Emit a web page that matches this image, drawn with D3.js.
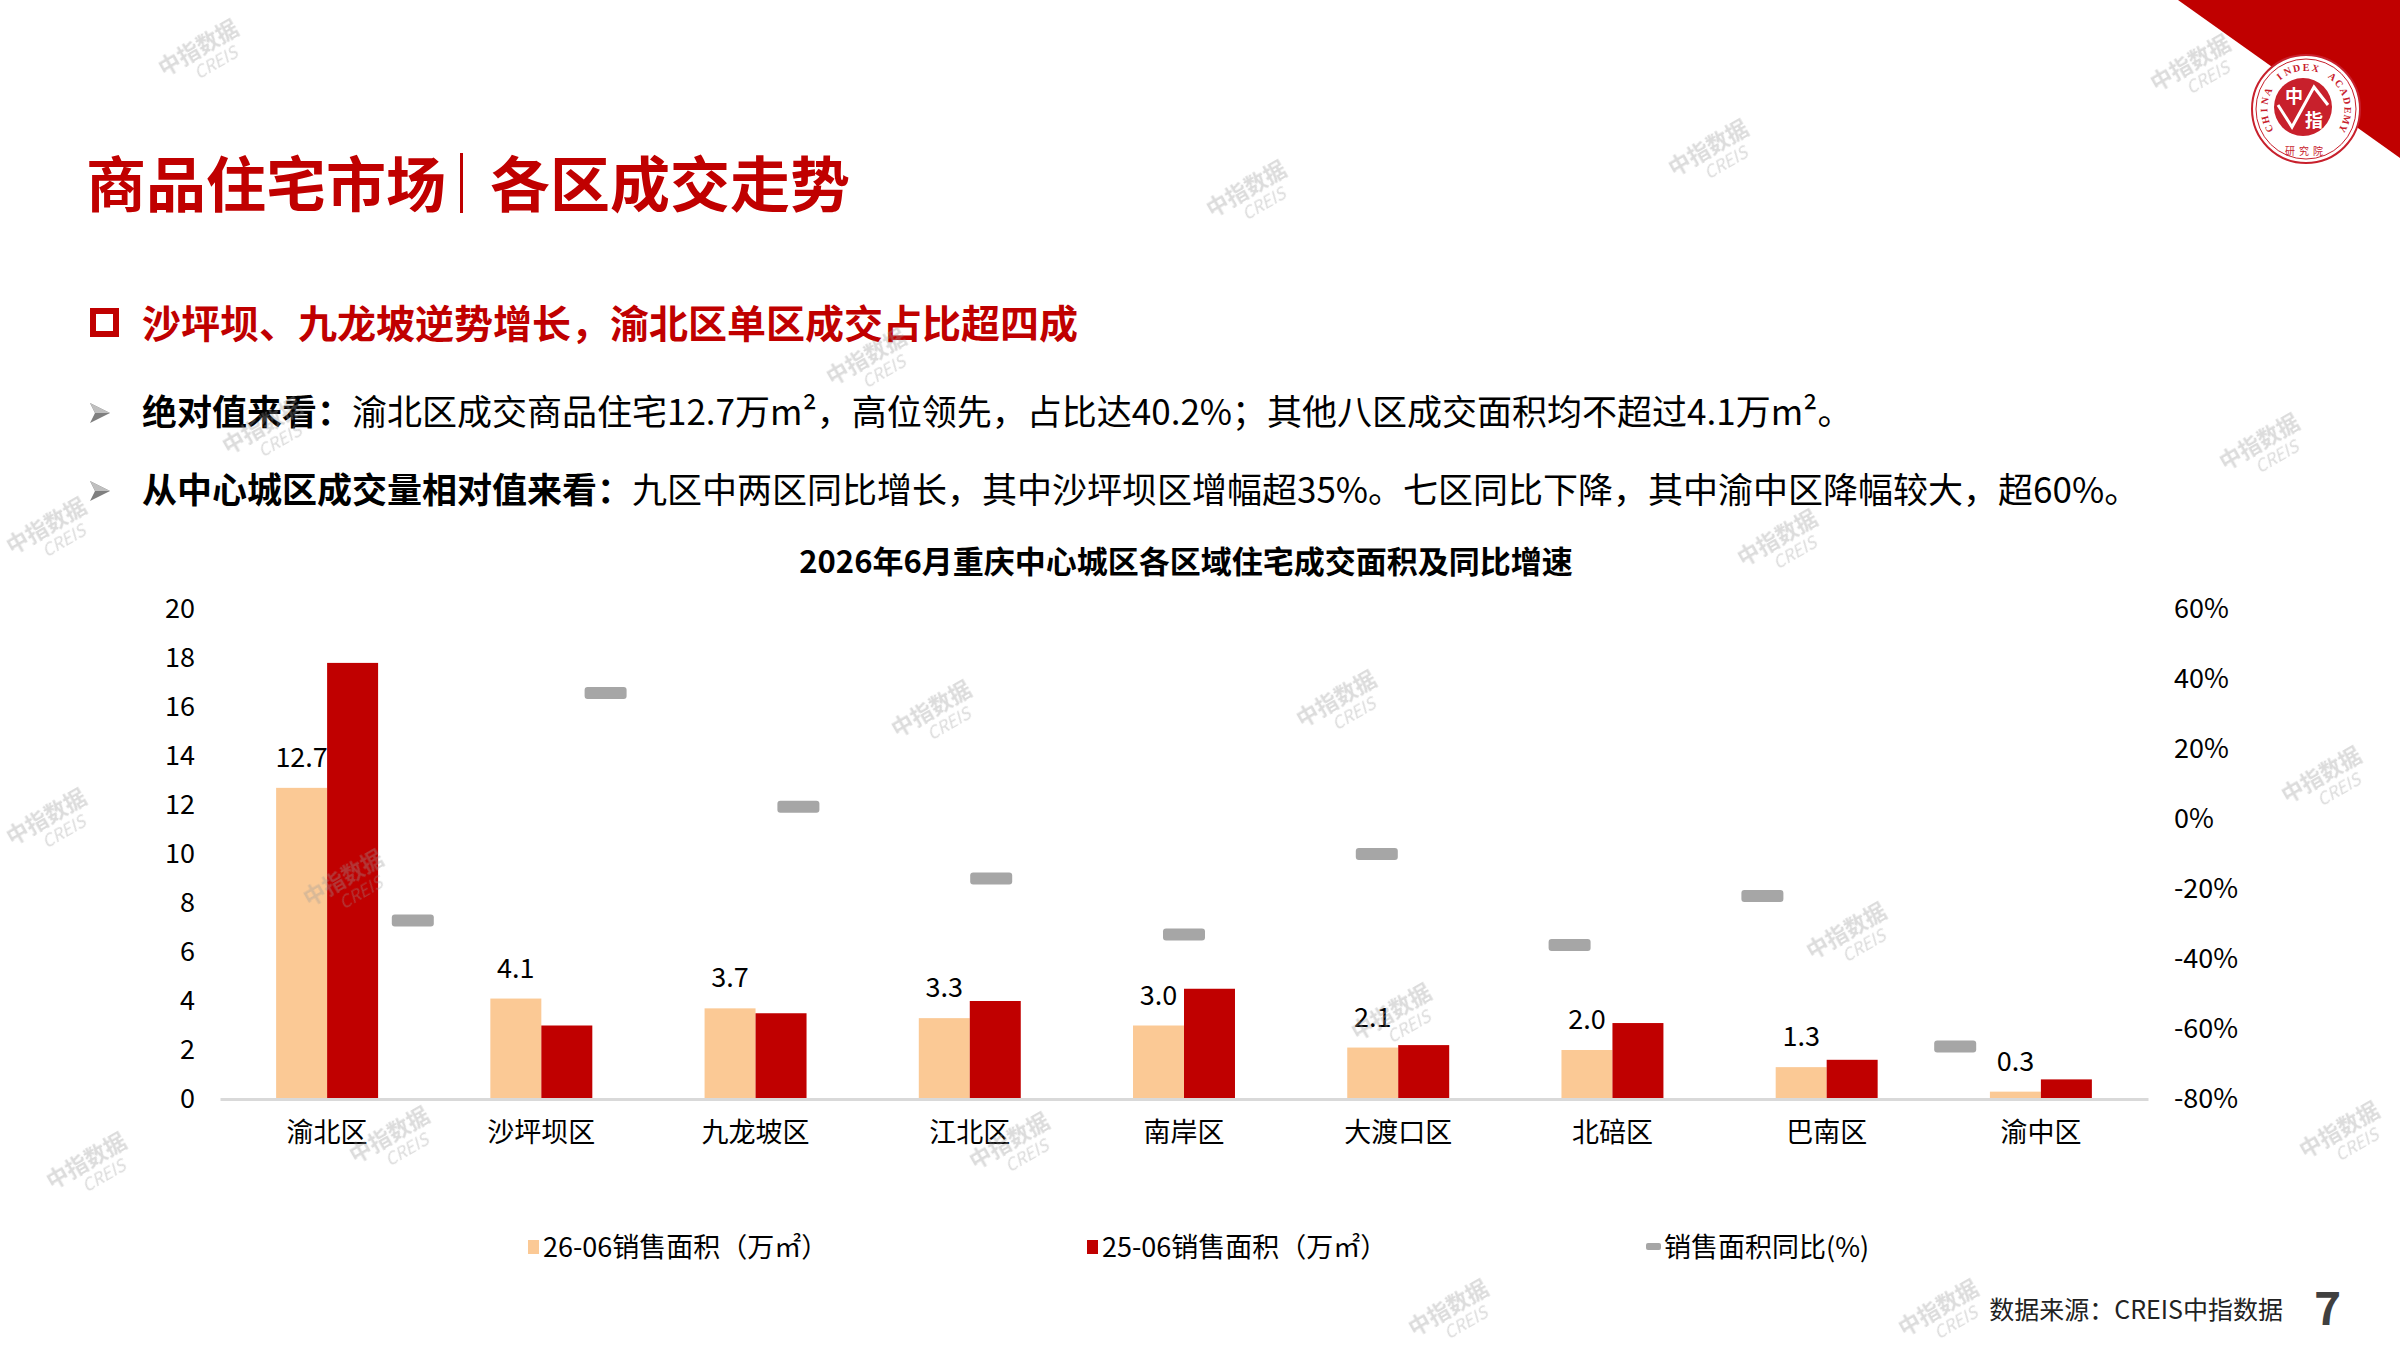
<!DOCTYPE html>
<html>
<head>
<meta charset="utf-8" />
<title>各区成交走势</title>
<style>
html, body {
    padding: 0px;
    margin: 0px;
    width: 100%;
    height: 100%;
    background: #fff;
}
svg text {
    font-family: "Noto Sans CJK SC", "Noto Sans", sans-serif;
}
.tick line {
    display: none;
}
</style>
</head>
<body>
<svg id="page" width="2400" height="1350"></svg>

<script src="https://cdnjs.cloudflare.com/ajax/libs/d3/7.8.5/d3.min.js"></script>
<script>
// 区域
var districts = ["渝北区", "沙坪坝区", "九龙坡区", "江北区", "南岸区", "大渡口区", "北碚区", "巴南区", "渝中区"]
// 26-06销售面积（万㎡）
var area2606 = [12.7, 4.1, 3.7, 3.3, 3.0, 2.1, 2.0, 1.3, 0.3]
// 25-06销售面积（万㎡）
var area2506 = [17.8, 3.0, 3.5, 4.0, 4.5, 2.2, 3.1, 1.6, 0.8]
// 销售面积同比
var yoy = [-0.29, 0.36, 0.035, -0.17, -0.33, -0.10, -0.36, -0.22, -0.65]

var seriesNames = ["26-06销售面积（万㎡）", "25-06销售面积（万㎡）", "销售面积同比(%)"]
var leftTicks = [0, 2, 4, 6, 8, 10, 12, 14, 16, 18, 20]
var rightTicks = [-0.8, -0.6, -0.4, -0.2, 0, 0.2, 0.4, 0.6]

var watermarks = [[204,58],[1252,199],[1714,158],[2196,73],[872,367],[268,436],[2265,452],
    [1783,548],[937,719],[1342,709],[2327,785],[52,827],[349,888],[1852,941],[395,1145],
    [92,1171],[1015,1151],[1397,1022],[2345,1140],[1454,1318],[52,536],[1944,1318]]

!(function(){
    "use strict"

    var RED = "#C00000"
    var svg = d3.select("#page")

    drawHeader()
    drawLogo()
    drawChart()
    drawFooter()
    drawWatermarks()

    function drawHeader() {
        // 大标题
        svg.append("text")
            .attr("x", 86).attr("y", 207)
            .attr("font-size", 60).attr("font-weight", 700)
            .attr("fill", RED)
            .text("商品住宅市场")
        svg.append("rect")
            .attr("x", 460).attr("y", 153).attr("width", 3).attr("height", 60)
            .attr("fill", RED)
        svg.append("text")
            .attr("x", 490).attr("y", 207)
            .attr("font-size", 60).attr("font-weight", 700)
            .attr("fill", RED)
            .text("各区成交走势")

        // 小标题
        svg.append("rect")
            .attr("x", 93).attr("y", 311).attr("width", 23).attr("height", 23)
            .attr("fill", "none").attr("stroke", RED).attr("stroke-width", 6)
        svg.append("text")
            .attr("x", 142).attr("y", 338)
            .attr("font-size", 39).attr("font-weight", 700)
            .attr("fill", RED)
            .text("沙坪坝、九龙坡逆势增长，渝北区单区成交占比超四成")

        var bullets = [
            {y: 413, bold: "绝对值来看：", rest: "渝北区成交商品住宅12.7万m²，高位领先，占比达40.2%；其他八区成交面积均不超过4.1万m²。"},
            {y: 491, bold: "从中心城区成交量相对值来看：", rest: "九区中两区同比增长，其中沙坪坝区增幅超35%。七区同比下降，其中渝中区降幅较大，超60%。"}
        ]
        bullets.forEach(function(b) {
            var g = svg.append("g").attr("transform", "translate(90," + b.y + ")")
            g.append("path").attr("d", "M0,-10 L20,0 L0,10 L5,0 Z").attr("fill", "#7f7f7f")
            g.append("path").attr("d", "M0,-10 L20,0 L5,0 Z").attr("fill", "#bfbfbf")
            var t = svg.append("text")
                .attr("x", 142).attr("y", b.y + 12)
                .attr("font-size", 35).attr("fill", "#000")
            t.append("tspan").attr("font-weight", 700).text(b.bold)
            t.append("tspan").text(b.rest)
        })
    }

    function drawLogo() {
        svg.append("path")
            .attr("d", "M2178,0 L2400,0 L2400,158 Z")
            .attr("fill", RED)
        var g = svg.append("g").attr("transform", "translate(2306,109)")
        g.append("circle").attr("r", 54).attr("fill", "#fff").attr("stroke", "#c8202c").attr("stroke-width", 2)
        g.append("circle").attr("r", 50).attr("fill", "none").attr("stroke", "#c8202c").attr("stroke-width", 1)
        g.append("circle").attr("cx", -3).attr("cy", -2).attr("r", 29).attr("fill", "#c8202c")
        g.append("path").attr("d", "M-28,-4 L-14,18 L8,-22 L22,-4")
            .attr("fill", "none").attr("stroke", "#fff").attr("stroke-width", 3)
        g.append("text").attr("x", -12).attr("y", -6).attr("text-anchor", "middle")
            .attr("font-size", 18).attr("font-weight", 700).attr("fill", "#fff").text("中")
        g.append("text").attr("x", 8).attr("y", 18).attr("text-anchor", "middle")
            .attr("font-size", 18).attr("font-weight", 700).attr("fill", "#fff").text("指")

        // 环形英文，逐字放置
        var ring = "CHINA INDEX ACADEMY".split("")
        var a0 = -118, a1 = 118, r = 42
        ring.forEach(function(ch, i) {
            if (ch == " ") return
            var a = a0 + (a1 - a0) * i / (ring.length - 1)
            var rad = (a - 90) * Math.PI / 180
            g.append("text")
                .attr("transform", "translate(" + (r * Math.cos(rad)).toFixed(1) + "," + (r * Math.sin(rad)).toFixed(1) + ") rotate(" + a + ")")
                .attr("text-anchor", "middle").attr("dy", "0.35em")
                .attr("font-size", 10).attr("font-weight", 700).attr("fill", "#c8202c")
                .style("font-family", "'Liberation Serif', serif")
                .text(ch)
        })
        g.append("text").attr("x", 0).attr("y", 46).attr("text-anchor", "middle")
            .attr("font-size", 10).attr("fill", "#c8202c").attr("letter-spacing", 4)
            .text("研究院")
    }

    function drawChart() {
        var left = 220, right = 2148, top = 609, bottom = 1099
        var w = right - left

        var x0 = d3.scaleBand().domain(districts).range([left, right])
            .paddingInner(0.524).paddingOuter(0.262)
        var x1 = d3.scaleBand().domain([0, 1]).range([0, x0.bandwidth()])
        // 折线系列在次坐标轴上，点位按十等分排列
        var xm = d3.scalePoint().domain(districts).range([left + w / 10, right - w / 10])
        var yL = d3.scaleLinear().domain([0, 20]).range([bottom, top])
        var yR = d3.scaleLinear().domain([-0.8, 0.6]).range([bottom, top])

        // 图表标题
        svg.append("text")
            .attr("x", 1186).attr("y", 573)
            .attr("text-anchor", "middle")
            .attr("font-size", 31).attr("font-weight", 700).attr("fill", "#000")
            .text("2026年6月重庆中心城区各区域住宅成交面积及同比增速")

        // 左轴
        var axL = svg.append("g").attr("transform", "translate(" + left + ",0)")
            .call(d3.axisLeft(yL).tickValues(leftTicks).tickSize(0).tickPadding(25))
        axL.select(".domain").remove()
        axL.selectAll("text").attr("font-size", 27).attr("fill", "#000")
            .style("font-family", "'Noto Sans CJK SC', sans-serif")

        // 右轴
        var axR = svg.append("g").attr("transform", "translate(" + right + ",0)")
            .call(d3.axisRight(yR).tickValues(rightTicks).tickSize(0).tickPadding(26)
                .tickFormat(function(d) { return Math.round(d * 100) + "%" }))
        axR.select(".domain").remove()
        axR.selectAll("text").attr("font-size", 27).attr("fill", "#000")
            .style("font-family", "'Noto Sans CJK SC', sans-serif")

        // 柱
        var rows = districts.map(function(d, i) {
            return {name: d, vals: [area2606[i], area2506[i]]}
        })
        var colors = ["#FBC995", "#C00000"]
        var grp = svg.append("g").selectAll("g")
            .data(rows).enter().append("g")
            .attr("transform", function(d) { return "translate(" + x0(d.name) + ",0)" })
        grp.selectAll("rect")
            .data(function(d) { return d.vals })
            .enter().append("rect")
            .attr("x", function(d, i) { return x1(i) })
            .attr("width", x1.bandwidth())
            .attr("y", function(d) { return yL(d) })
            .attr("height", function(d) { return bottom - yL(d) })
            .attr("fill", function(d, i) { return colors[i] })

        // 数据标签
        svg.append("g").selectAll("text")
            .data(rows).enter().append("text")
            .attr("x", function(d) { return x0(d.name) + x1(0) + x1.bandwidth() / 2 })
            .attr("y", function(d) { return yL(d.vals[0]) - 21 })
            .attr("text-anchor", "middle")
            .attr("font-size", 27).attr("fill", "#000")
            .text(function(d) { return d3.format(".1f")(d.vals[0]) })

        // 类别轴
        var axB = svg.append("g").attr("transform", "translate(0," + bottom + ")")
            .call(d3.axisBottom(x0).tickSize(0).tickSizeOuter(0).tickPadding(24))
        axB.select(".domain").attr("stroke", "#D9D9D9").attr("stroke-width", 3)
        axB.selectAll("text").attr("font-size", 27).attr("fill", "#000")
            .style("font-family", "'Noto Sans CJK SC', sans-serif")

        // 同比标记
        svg.append("g").selectAll("rect")
            .data(yoy).enter().append("rect")
            .attr("x", function(d, i) { return xm(districts[i]) - 21 })
            .attr("y", function(d) { return yR(d) - 6 })
            .attr("width", 42).attr("height", 12)
            .attr("rx", 3)
            .attr("fill", "#A6A6A6")

        // 图例
        var legend = [
            {x: 528, label: seriesNames[0], type: "bar", color: colors[0]},
            {x: 1087, label: seriesNames[1], type: "bar", color: colors[1]},
            {x: 1646, label: seriesNames[2], type: "line", color: "#A6A6A6"}
        ]
        var lg = svg.append("g").selectAll("g")
            .data(legend).enter().append("g")
            .attr("transform", function(d) { return "translate(" + d.x + ",1247)" })
        lg.append("rect")
            .attr("x", 0)
            .attr("y", function(d) { return d.type == "bar" ? -7 : -4 })
            .attr("width", function(d) { return d.type == "bar" ? 11 : 15 })
            .attr("height", function(d) { return d.type == "bar" ? 14 : 7 })
            .attr("rx", function(d) { return d.type == "bar" ? 0 : 2 })
            .attr("fill", function(d) { return d.color })
        lg.append("text")
            .attr("x", function(d) { return d.type == "bar" ? 15 : 18 })
            .attr("y", 10)
            .attr("font-size", 27).attr("fill", "#000")
            .text(function(d) { return d.label })
    }

    function drawFooter() {
        svg.append("text")
            .attr("x", 2283).attr("y", 1319)
            .attr("text-anchor", "end")
            .attr("font-size", 25).attr("fill", "#222")
            .text("数据来源：CREIS中指数据")
        svg.append("text")
            .attr("x", 2314).attr("y", 1325)
            .attr("font-size", 46).attr("font-weight", 700).attr("fill", "#404040")
            .text("7")
    }

    function drawWatermarks() {
        var wm = svg.append("g").attr("opacity", 0.35).attr("pointer-events", "none")
        var g = wm.selectAll("g").data(watermarks).enter().append("g")
            .attr("transform", function(d) { return "translate(" + d[0] + "," + d[1] + ") rotate(-30)" })
        g.append("text").attr("text-anchor", "middle").attr("y", -4)
            .attr("font-size", 22).attr("font-weight", 700).attr("fill", "#9a9a9a")
            .text("中指数据")
        g.append("text").attr("text-anchor", "middle").attr("x", 8).attr("y", 16)
            .attr("font-size", 17).attr("font-style", "italic").attr("fill", "#9a9a9a")
            .text("CREIS")
    }

}());
</script>
</body>
</html>
